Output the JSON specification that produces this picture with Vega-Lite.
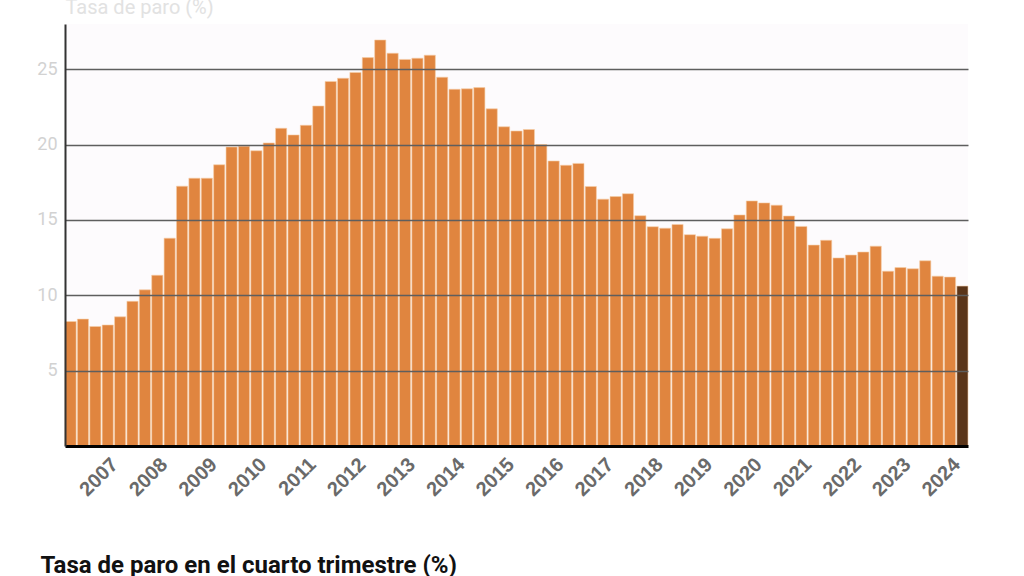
{
  "$schema": "https://vega.github.io/schema/vega-lite/v6.json",
  "width": 903,
  "height": 422,
  "autosize": {"type": "none"},
  "padding": {"left": 65, "top": 24, "right": 56, "bottom": 130},
  "background": "#ffffff",
  "config": {
    "font": "Roboto",
    "view": {"fill": "#fdfbfd", "stroke": null}
  },
  "data": {
    "values": [
      {"t": "2006T4", "paro": 8.26},
      {"t": "2007T1", "paro": 8.42}, {"t": "2007T2", "paro": 7.93}, {"t": "2007T3", "paro": 8.03}, {"t": "2007T4", "paro": 8.57},
      {"t": "2008T1", "paro": 9.60}, {"t": "2008T2", "paro": 10.36}, {"t": "2008T3", "paro": 11.33}, {"t": "2008T4", "paro": 13.79},
      {"t": "2009T1", "paro": 17.24}, {"t": "2009T2", "paro": 17.77}, {"t": "2009T3", "paro": 17.77}, {"t": "2009T4", "paro": 18.66},
      {"t": "2010T1", "paro": 19.84}, {"t": "2010T2", "paro": 19.89}, {"t": "2010T3", "paro": 19.59}, {"t": "2010T4", "paro": 20.11},
      {"t": "2011T1", "paro": 21.08}, {"t": "2011T2", "paro": 20.64}, {"t": "2011T3", "paro": 21.28}, {"t": "2011T4", "paro": 22.56},
      {"t": "2012T1", "paro": 24.19}, {"t": "2012T2", "paro": 24.40}, {"t": "2012T3", "paro": 24.79}, {"t": "2012T4", "paro": 25.77},
      {"t": "2013T1", "paro": 26.94}, {"t": "2013T2", "paro": 26.06}, {"t": "2013T3", "paro": 25.65}, {"t": "2013T4", "paro": 25.73},
      {"t": "2014T1", "paro": 25.93}, {"t": "2014T2", "paro": 24.47}, {"t": "2014T3", "paro": 23.67}, {"t": "2014T4", "paro": 23.70},
      {"t": "2015T1", "paro": 23.78}, {"t": "2015T2", "paro": 22.37}, {"t": "2015T3", "paro": 21.18}, {"t": "2015T4", "paro": 20.90},
      {"t": "2016T1", "paro": 21.00}, {"t": "2016T2", "paro": 20.00}, {"t": "2016T3", "paro": 18.91}, {"t": "2016T4", "paro": 18.63},
      {"t": "2017T1", "paro": 18.75}, {"t": "2017T2", "paro": 17.22}, {"t": "2017T3", "paro": 16.38}, {"t": "2017T4", "paro": 16.55},
      {"t": "2018T1", "paro": 16.74}, {"t": "2018T2", "paro": 15.28}, {"t": "2018T3", "paro": 14.55}, {"t": "2018T4", "paro": 14.45},
      {"t": "2019T1", "paro": 14.70}, {"t": "2019T2", "paro": 14.02}, {"t": "2019T3", "paro": 13.92}, {"t": "2019T4", "paro": 13.78},
      {"t": "2020T1", "paro": 14.41}, {"t": "2020T2", "paro": 15.33}, {"t": "2020T3", "paro": 16.26}, {"t": "2020T4", "paro": 16.13},
      {"t": "2021T1", "paro": 15.98}, {"t": "2021T2", "paro": 15.26}, {"t": "2021T3", "paro": 14.57}, {"t": "2021T4", "paro": 13.33},
      {"t": "2022T1", "paro": 13.65}, {"t": "2022T2", "paro": 12.48}, {"t": "2022T3", "paro": 12.67}, {"t": "2022T4", "paro": 12.87},
      {"t": "2023T1", "paro": 13.26}, {"t": "2023T2", "paro": 11.60}, {"t": "2023T3", "paro": 11.84}, {"t": "2023T4", "paro": 11.76},
      {"t": "2024T1", "paro": 12.29}, {"t": "2024T2", "paro": 11.27}, {"t": "2024T3", "paro": 11.21}, {"t": "2024T4", "paro": 10.61}
    ]
  },
  "mark": {"type": "bar", "stroke": "#f6cfa8", "strokeWidth": 0.6},
  "encoding": {
    "x": {
      "field": "t",
      "type": "ordinal",
      "sort": null,
      "scale": {"paddingInner": 0.1, "paddingOuter": 0},
      "axis": {
        "labelExpr": "substring(datum.value, 4) === 'T3' ? substring(datum.value, 0, 4) : ''",
        "labelAngle": -45,
        "labelAlign": "right",
        "labelBaseline": "top",
        "labelPadding": 8,
        "labelFont": "Liberation Sans",
        "labelFontWeight": "bold",
        "labelFontSize": 20,
        "labelColor": "#6a6a6a",
        "ticks": false,
        "domainColor": "#000000",
        "domainWidth": 3,
        "zindex": 1,
        "labelOverlap": false,
        "title": "Tasa de paro en el cuarto trimestre (%)",
        "titleX": -25,
        "titleY": 126,
        "titleAlign": "left",
        "titleBaseline": "alphabetic",
        "titleFont": "Roboto",
        "titleFontSize": 24,
        "titleFontWeight": "bold",
        "titleColor": "#111111"
      }
    },
    "y": {
      "field": "paro",
      "type": "quantitative",
      "scale": {"domain": [0, 28], "nice": false},
      "axis": {
        "values": [5, 10, 15, 20, 25],
        "grid": true,
        "gridColor": "#5e5e5e",
        "gridWidth": 1.5,
        "ticks": false,
        "domainColor": "#333333",
        "domainWidth": 2,
        "labelColor": "#d2d2d2",
        "labelFontSize": 18,
        "labelPadding": 8,
        "zindex": 1,
        "title": "Tasa de paro (%)",
        "titleAngle": 0,
        "titleX": 0,
        "titleY": -11,
        "titleAlign": "left",
        "titleBaseline": "alphabetic",
        "titleFontSize": 20,
        "titleFontWeight": "normal",
        "titleColor": "#e2e2e2"
      }
    },
    "color": {
      "condition": {"test": "datum.t === '2024T4'", "value": "#5b3519"},
      "value": "#e0853f"
    }
  }
}
